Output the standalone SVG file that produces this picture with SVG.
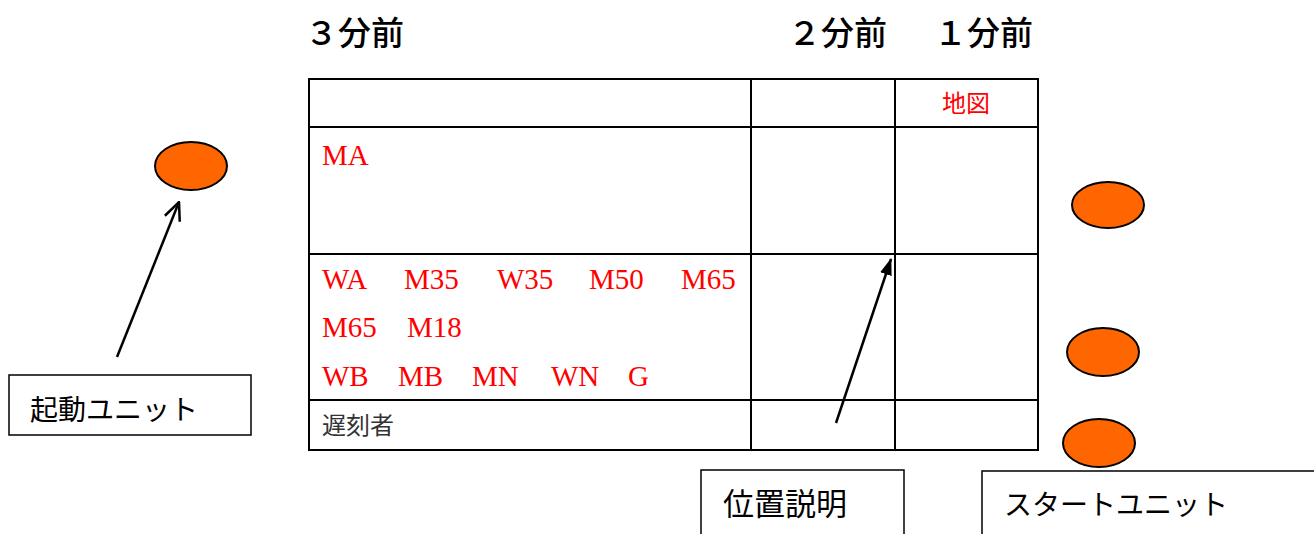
<svg xmlns="http://www.w3.org/2000/svg" width="1314" height="534" viewBox="0 0 1314 534">
<style>
.head{font-family:"Liberation Serif","Noto Sans CJK JP",serif;font-size:33px;fill:#000;font-weight:500}
.red{font-family:"Liberation Serif","Noto Sans CJK JP",serif;font-size:29px;fill:#ff0000}
.cell{font-family:"Noto Sans CJK JP",sans-serif;font-size:24px}
.lbl{font-family:"Noto Sans CJK JP",sans-serif;font-size:28px;fill:#000}
.grid{stroke:#000;stroke-width:2;fill:none}
.box{stroke:#000;stroke-width:1.5;fill:#fff}
.dot{fill:#ff6600;stroke:#000;stroke-width:2}
.conn{stroke:#000;stroke-width:2.5;fill:none}
</style>
<defs>
<marker id="open" viewBox="0 0 20 20" refX="19" refY="10" markerWidth="20" markerHeight="20" markerUnits="userSpaceOnUse" orient="auto">
<path d="M1,2 L19,10 L1,18" fill="none" stroke="#000" stroke-width="2.5"/>
</marker>
<marker id="solid" viewBox="0 0 17 12" refX="16" refY="6" markerWidth="17" markerHeight="12" markerUnits="userSpaceOnUse" orient="auto">
<path d="M0,0 L17,6 L0,12 Z" fill="#000"/>
</marker>
</defs>
<rect width="1314" height="534" fill="#fff"/>
<g id="headings">
<text class="head" x="305" y="45">３分前</text>
<text class="head" x="788" y="45">２分前</text>
<text class="head" x="934" y="45">１分前</text>
</g>
<g id="table">
<rect class="grid" x="309" y="79" width="729" height="371"/>
<line class="grid" x1="751" y1="79" x2="751" y2="450"/>
<line class="grid" x1="895" y1="79" x2="895" y2="450"/>
<line class="grid" x1="309" y1="127" x2="1038" y2="127"/>
<line class="grid" x1="309" y1="254" x2="1038" y2="254"/>
<line class="grid" x1="309" y1="400" x2="1038" y2="400"/>
<text class="cell" x="966" y="112" fill="#ff0000" text-anchor="middle">地図</text>
<text class="red" x="322" y="165">MA</text>
<text class="red" x="322" y="289">WA</text>
<text class="red" x="404" y="289">M35</text>
<text class="red" x="497" y="289">W35</text>
<text class="red" x="589" y="289">M50</text>
<text class="red" x="681" y="289">M65</text>
<text class="red" x="322" y="337">M65</text>
<text class="red" x="407" y="337">M18</text>
<text class="red" x="322" y="386">WB</text>
<text class="red" x="398" y="386">MB</text>
<text class="red" x="472" y="386">MN</text>
<text class="red" x="551" y="386">WN</text>
<text class="red" x="628" y="386">G</text>
<text class="cell" x="322" y="434" fill="#333">遅刻者</text>
</g>
<g id="unit-start">
<ellipse class="dot" cx="191" cy="166" rx="36" ry="24"/>
</g>
<g id="unit-right-1">
<ellipse class="dot" cx="1108" cy="205" rx="36" ry="23"/>
</g>
<g id="unit-right-2">
<ellipse class="dot" cx="1103" cy="352" rx="36" ry="24"/>
</g>
<g id="unit-right-3">
<ellipse class="dot" cx="1099" cy="443" rx="36" ry="24"/>
</g>
<g id="label-kidou">
<rect class="box" x="9" y="375" width="242" height="60"/>
<text class="lbl" x="30" y="420">起動ユニット</text>
</g>
<g id="label-ichi">
<rect class="box" x="701" y="470" width="203" height="70"/>
<text class="lbl" x="723" y="515" style="font-size:31px">位置説明</text>
</g>
<g id="label-start">
<rect class="box" x="982" y="471" width="340" height="70"/>
<text class="lbl" x="1004" y="515">スタートユニット</text>
</g>
<g id="connectors">
<line class="conn" x1="117" y1="357" x2="179" y2="202" marker-end="url(#open)"/>
<line class="conn" x1="836" y1="423" x2="891" y2="259" marker-end="url(#solid)"/>
</g>
</svg>
